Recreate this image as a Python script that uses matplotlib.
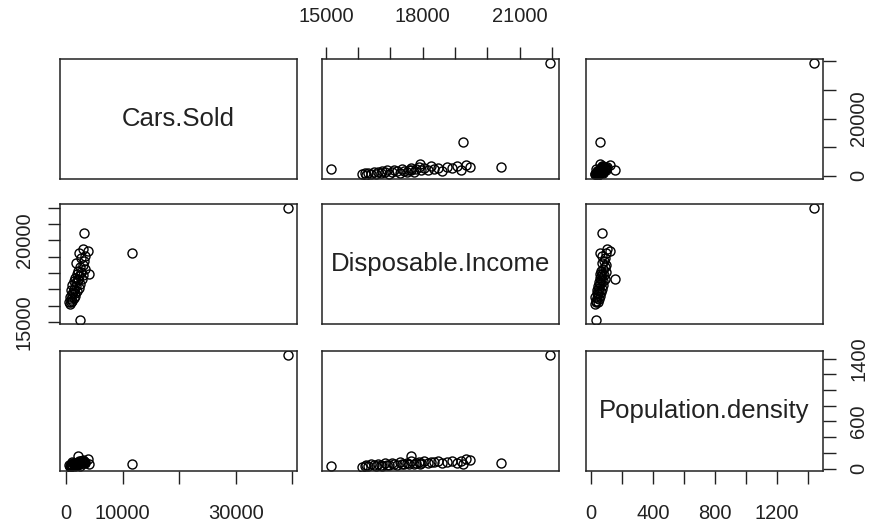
"""
Scatterplot matrix (R pairs() style) of car sales, income and population density.
"""

import matplotlib
matplotlib.use("Agg")
import matplotlib.pyplot as plt

# ── Data ──────────────────────────────────────────────────────────────────────
VARIABLES = ["Cars.Sold", "Disposable.Income", "Population.density"]

cars_sold = [
    39300, 11700, 3150, 3800, 2100, 2400, 4000,
    600, 900, 450, 1100, 800, 1300, 700, 1500, 1000, 1600, 1200, 1900, 800,
    1400, 2200, 1700, 1100, 2500, 1800, 1300, 2100, 2800, 1500, 2300, 3000,
    1900, 2600, 2100, 3300, 2400, 2900, 1800, 3100, 2700, 3400, 2200, 3000,
]
disposable_income = [
    21950, 19250, 20430, 19350, 17650, 15150, 17930,
    16120, 16200, 16250, 16300, 16400, 16480, 16550, 16600, 16700, 16750,
    16820, 16900, 16950, 17050, 17100, 17200, 17280, 17350, 17420, 17500,
    17580, 17650, 17720, 17800, 17880, 17950, 18050, 18150, 18250, 18350,
    18480, 18600, 18750, 18900, 19050, 19200, 19450,
]
population_density = [
    1440, 60, 70, 120, 155, 30, 60,
    25, 35, 45, 30, 55, 40, 28, 60, 48, 38, 65, 50, 42, 70, 55, 45, 80, 60,
    52, 75, 62, 90, 58, 68, 85, 72, 95, 66, 78, 88, 100, 74, 82, 92, 70, 98,
    105,
]

# ticks and the labels R chose to print (others dropped for overlap)
CARS_TICKS = [0, 10000, 20000, 30000, 40000]
CARS_LABELS_X = ["0", "10000", "", "30000", ""]
CARS_LABELS_Y = ["0", "", "20000", "", ""]
INCOME_TICKS = [15000, 16000, 17000, 18000, 19000, 20000, 21000, 22000]
INCOME_LABELS_X = ["15000", "", "", "18000", "", "", "21000", ""]
INCOME_LABELS_Y = ["15000", "", "", "", "", "20000", "", ""]
POP_TICKS = [0, 200, 400, 600, 800, 1000, 1200, 1400]
POP_LABELS_X = ["0", "", "400", "", "800", "", "1200", ""]
POP_LABELS_Y = ["0", "", "", "600", "", "", "", "1400"]

# ── Style ─────────────────────────────────────────────────────────────────────
FONT = "Liberation Sans"
TICK_SIZE = 14.5
DIAG_SIZE = 18.5
TEXT_COLOR = "#222222"

plt.rcParams["font.family"] = [FONT, "DejaVu Sans"]

# panel boxes in pixels (left, top) on the 873x525 canvas
W, H = 873, 525
COL_LEFT = [60, 322, 586]
ROW_TOP = [59, 204, 351]
PW, PH = 237, 120


def lims(values):
    lo, hi = min(values), max(values)
    r = hi - lo
    return lo - 0.04 * r, hi + 0.04 * r


def main() -> None:
    data = [cars_sold, disposable_income, population_density]
    ticks = [CARS_TICKS, INCOME_TICKS, POP_TICKS]
    xlabels = [CARS_LABELS_X, INCOME_LABELS_X, POP_LABELS_X]
    ylabels = [CARS_LABELS_Y, INCOME_LABELS_Y, POP_LABELS_Y]

    fig = plt.figure(figsize=(W / 100, H / 100), dpi=100)
    fig.patch.set_facecolor("white")

    for i in range(3):          # rows -> y variable
        for j in range(3):      # cols -> x variable
            rect = [COL_LEFT[j] / W, 1 - (ROW_TOP[i] + PH) / H, PW / W, PH / H]
            ax = fig.add_axes(rect)
            for spine in ax.spines.values():
                spine.set_linewidth(1.1)
                spine.set_color(TEXT_COLOR)
            ax.set_xlim(*lims(data[j]))
            ax.set_ylim(*lims(data[i]))

            if i == j:
                ax.text(0.5, 0.5, VARIABLES[i], transform=ax.transAxes,
                        ha="center", va="center", fontsize=DIAG_SIZE, color=TEXT_COLOR)
            else:
                ax.plot(data[j], data[i], "o", mfc="none", mec="black",
                        ms=6.5, mew=1.0, clip_on=True)

            ax.tick_params(length=9, width=1.0, color=TEXT_COLOR,
                           labelsize=TICK_SIZE, labelcolor=TEXT_COLOR)

            # x axis: bottom on cols 0 and 2 (last row), top on col 1 (first row)
            if (i == 2 and j in (0, 2)) or (i == 0 and j == 1):
                ax.set_xticks(ticks[j])
                ax.set_xticklabels(xlabels[j])
                if i == 0:
                    ax.xaxis.tick_top()
                ax.tick_params(axis="x", pad=15)
            else:
                ax.set_xticks([])

            # y axis: right on rows 0 and 2 (last col), left on row 1 (first col)
            if (j == 2 and i in (0, 2)) or (j == 0 and i == 1):
                ax.set_yticks(ticks[i])
                ax.set_yticklabels(ylabels[i])
                if j == 2:
                    ax.yaxis.tick_right()
                ax.tick_params(axis="y", labelrotation=90, pad=10)
                for lab in ax.get_yticklabels():
                    lab.set_va("center")
            else:
                ax.set_yticks([])

    fig.savefig("out.png", dpi=100, facecolor="white")
    plt.close(fig)


if __name__ == "__main__":
    main()
